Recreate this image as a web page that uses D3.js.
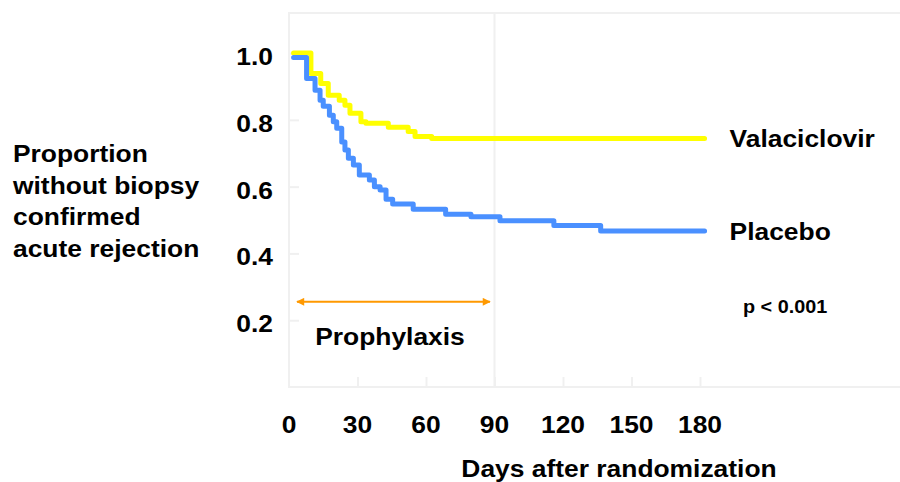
<!DOCTYPE html>
<html>
<head>
<meta charset="utf-8">
<script src="https://cdn.jsdelivr.net/npm/d3@7"></script>
<style>
  body { margin: 0; background: #fff; }
  text { font-family: "Liberation Sans", Arial, sans-serif; font-weight: bold; fill: #000; }
</style>
</head>
<body>
<div id="chart"></div>
<script>
// Kaplan-Meier steps: [day, proportion]
const valaciclovir = [
    [2, 1.0], [9.6, 0.939], [13.9, 0.909], [17.2, 0.874], [22, 0.859],
    [24.5, 0.844], [26.7, 0.82], [31.5, 0.794], [33.7, 0.79], [43.5, 0.778],
    [52.2, 0.765], [55.2, 0.75], [62.5, 0.744], [182, 0.744],
];
const placebo = [
    [2, 0.987], [7.7, 0.924], [11.4, 0.889], [13.6, 0.859], [15, 0.841],
    [17.7, 0.814], [19.4, 0.794], [20.9, 0.775], [23.1, 0.734], [24.5, 0.71],
    [26, 0.685], [28.2, 0.665], [30.8, 0.635], [35.2, 0.62], [37.4, 0.6],
    [39.9, 0.59], [42.5, 0.562], [45.4, 0.548], [54.4, 0.532], [68.6, 0.517],
    [79.7, 0.51], [92.4, 0.498], [116, 0.484], [136.5, 0.467], [182, 0.467],
];
const xTicks = [0, 30, 60, 90, 120, 150, 180];
const yTicks = [0.2, 0.4, 0.6, 0.8, 1.0];
const yTitle = ['Proportion', 'without biopsy', 'confirmed', 'acute rejection'];
const prophylaxis = [3.5, 88];

const width = 900,
    height = 482,
    plot = { left: 289, right: 700, top: 13, bottom: 387 },
    sx = 1.1,
    fontSize = 24,
    gridColor = '#f0f0f0';

const svg = d3.select('#chart')
    .append('svg')
    .attr('width', width)
    .attr('height', height);

const x = d3.scaleLinear().domain([0, 180]).range([plot.left, plot.right]);
const y = d3.scaleLinear().domain([0, 1.12]).range([plot.bottom, plot.top]);

// text helper: the source lettering is a little wider than Arial
const label = (tx, ty, str, anchor, size) =>
    svg.append('text')
        .attr('transform', `translate(${tx},${ty}) scale(${sx},1)`)
        .attr('text-anchor', anchor)
        .style('font-size', size + 'px')
        .text(str);

// frame: open to the right edge
svg.append('path')
    .attr('d', `M${width},${plot.top}H${plot.left}V${plot.bottom}H${width}`)
    .attr('fill', 'none')
    .attr('stroke', gridColor)
    .attr('stroke-width', 2);

// 90 day line
svg.append('line')
    .attr('x1', x(90)).attr('x2', x(90))
    .attr('y1', plot.top).attr('y2', plot.bottom)
    .attr('stroke', gridColor)
    .attr('stroke-width', 2);

// tick marks, pointing inwards
const xAxis = svg.append('g')
    .attr('transform', `translate(0,${plot.bottom})`)
    .call(d3.axisBottom(x).tickValues(xTicks.slice(1)).tickSize(-10).tickFormat(''));
const yAxis = svg.append('g')
    .attr('transform', `translate(${plot.left},0)`)
    .call(d3.axisLeft(y).tickValues(yTicks).tickSize(-10).tickFormat(''));
[xAxis, yAxis].forEach((g) => {
    g.select('.domain').remove();
    g.selectAll('line').attr('stroke', gridColor).attr('stroke-width', 2);
});

// tick labels
xTicks.forEach((d) => label(x(d), 433, d, 'middle', fontSize));
yTicks.forEach((d) => label(273, y(d) + 12, d.toFixed(1), 'end', fontSize));

// axis titles
yTitle.forEach((t, i) => label(13, 162 + i * 31.5, t, 'start', fontSize));
label(619, 477, 'Days after randomization', 'middle', fontSize);

// survival curves
const step = d3.line()
    .curve(d3.curveStepAfter)
    .x((d) => x(d[0]))
    .y((d) => y(d[1]));

[[valaciclovir, '#ffff00'], [placebo, '#4a90ff']].forEach(([data, color]) => {
    svg.append('path')
        .datum(data)
        .attr('d', step)
        .attr('fill', 'none')
        .attr('stroke', color)
        .attr('stroke-width', 5)
        .attr('stroke-linecap', 'round')
        .attr('stroke-linejoin', 'round');
});

const lastV = valaciclovir[valaciclovir.length - 1];
const lastP = placebo[placebo.length - 1];
label(x(lastV[0]) + 25, y(lastV[1]) + 8, 'Valaciclovir', 'start', fontSize);
label(x(lastP[0]) + 25, y(lastP[1]) + 9, 'Placebo', 'start', fontSize);
label(743, 313, 'p < 0.001', 'start', 18);

// prophylaxis arrow
const orange = '#ff9900';
const defs = svg.append('defs');
defs.append('marker')
    .attr('id', 'head')
    .attr('viewBox', '0 0 10 10')
    .attr('refX', 9)
    .attr('refY', 5)
    .attr('markerUnits', 'userSpaceOnUse')
    .attr('markerWidth', 9)
    .attr('markerHeight', 8)
    .attr('orient', 'auto-start-reverse')
    .append('path')
    .attr('d', 'M0,0L10,5L0,10Z')
    .attr('fill', orange);

svg.append('line')
    .attr('x1', x(prophylaxis[0])).attr('x2', x(prophylaxis[1]))
    .attr('y1', y(0.255)).attr('y2', y(0.255))
    .attr('stroke', orange)
    .attr('stroke-width', 2)
    .attr('marker-start', 'url(#head)')
    .attr('marker-end', 'url(#head)');

label(390, 345, 'Prophylaxis', 'middle', fontSize);
</script>
</body>
</html>
